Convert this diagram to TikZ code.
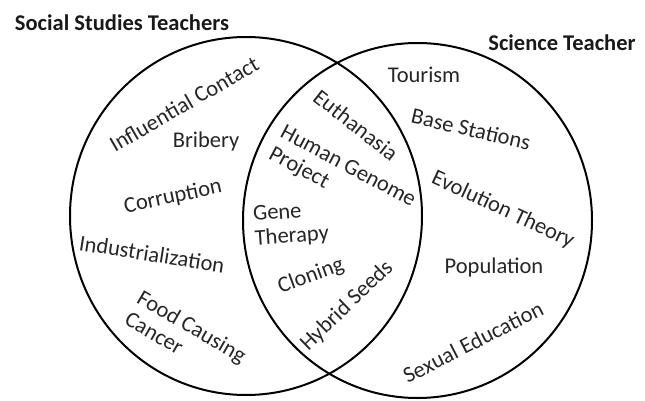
\documentclass[tikz,border=0pt]{standalone}
\usepackage{fontspec}
\setmainfont{Carlito}
\tikzset{
  topic/.style={font=\fontsize{22.5}{24.5}\selectfont, text=black!85, inner sep=0pt, align=left},
  group/.style={font=\fontsize{22.5}{24.5}\selectfont\bfseries, text=black!90, inner sep=0pt},
  setline/.style={line width=2pt}
}

\begin{document}
\begin{tikzpicture}[x=1pt,y=-1pt]
\useasboundingbox (0,0) rectangle (645,401);
\draw[setline] (246,216) ellipse [x radius=176, y radius=179];
\draw[setline] (417.5,220.5) ellipse [x radius=174.5, y radius=177.5];
\node[group] (ss) at (122,23) {Social Studies Teachers};
\node[group] (sci) at (562,43) {Science Teacher};
\node[topic, rotate=30] (infl) at (184,104) {Influential Contact};
\node[topic] (brib) at (206,142) {Bribery};
\node[topic, rotate=12] (corr) at (173,197) {Corruption};
\node[topic, rotate=-9] (indu) at (152,254) {Industrialization};
\node[topic, rotate=-30] (food) at (186,337) {Food Causing\\Cancer};
\node[topic, rotate=-38] (euth) at (356,125) {Euthanasia};
\node[topic, rotate=-28] (hgp) at (342,178) {Human Genome\\Project};
\node[topic, rotate=4] (gene) at (291,225) {Gene\\Therapy};
\node[topic, rotate=20] (clon) at (311,276) {Cloning};
\node[topic, rotate=44] (hyb) at (347,306) {Hybrid Seeds};
\node[topic] (tour) at (424,75) {Tourism};
\node[topic, rotate=-13] (base) at (471,129) {Base Stations};
\node[topic, rotate=-25] (evol) at (503,210) {Evolution Theory};
\node[topic] (popu) at (494,268) {Population};
\node[topic, rotate=27] (sexe) at (473,342) {Sexual Education};
\end{tikzpicture}
\end{document}
